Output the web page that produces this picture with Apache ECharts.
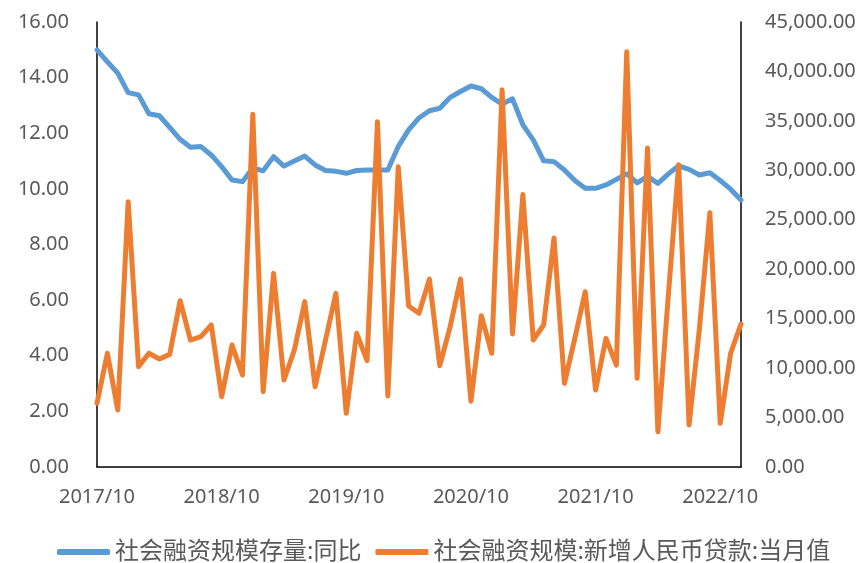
<!DOCTYPE html>
<html>
<head>
<meta charset="utf-8">
<script src="https://cdn.jsdelivr.net/npm/echarts@6/dist/echarts.min.js"></script>
<style>html,body{margin:0;padding:0;background:#fff}#c{width:864px;height:563px}</style>
</head>
<body>
<div id="c"></div>
<script>
const months = [
  '2017/10','2017/11','2017/12',
  '2018/01','2018/02','2018/03','2018/04','2018/05','2018/06','2018/07','2018/08','2018/09','2018/10','2018/11','2018/12',
  '2019/01','2019/02','2019/03','2019/04','2019/05','2019/06','2019/07','2019/08','2019/09','2019/10','2019/11','2019/12',
  '2020/01','2020/02','2020/03','2020/04','2020/05','2020/06','2020/07','2020/08','2020/09','2020/10','2020/11','2020/12',
  '2021/01','2021/02','2021/03','2021/04','2021/05','2021/06','2021/07','2021/08','2021/09','2021/10','2021/11','2021/12',
  '2022/01','2022/02','2022/03','2022/04','2022/05','2022/06','2022/07','2022/08','2022/09','2022/10','2022/11','2022/12'
];
const seriesNames = ['社会融资规模存量:同比', '社会融资规模:新增人民币贷款:当月值'];
const stockYoY = [
  15.00,14.57,14.16,
  13.46,13.38,12.70,12.63,12.21,11.78,11.50,11.52,11.22,10.80,10.32,10.26,
  10.75,10.65,11.16,10.82,11.00,11.18,10.86,10.66,10.63,10.56,10.66,10.68,
  10.68,10.68,11.52,12.12,12.55,12.81,12.90,13.29,13.50,13.70,13.60,13.29,
  13.05,13.24,12.30,11.76,11.01,10.98,10.68,10.30,10.02,10.02,10.14,10.34,
  10.54,10.22,10.45,10.20,10.54,10.83,10.70,10.50,10.58,10.30,9.99,9.60
];
const newLoans = [
  6440,11500,5760,
  26830,10150,11500,10920,11390,16820,12840,13180,14360,7110,12340,9300,
  35660,7620,19580,8800,11830,16720,8120,12840,17560,5430,13520,10750,
  34920,7180,30370,16280,15540,19000,10250,14200,19000,6650,15300,11500,
  38150,13450,27550,12840,14360,23150,8460,13010,17730,7790,13010,10310,
  42000,8970,32250,3570,17300,30570,4250,14020,25720,4420,11500,14460
];
const leftAxisRange = [0, 16, 2];
const rightAxisRange = [0, 45000, 5000];

const FONT = '"Noto Sans", "Noto Sans CJK SC", sans-serif';
const labelColor = '#595959';

function fmtRight(v) {
  return v.toLocaleString('en-US', {minimumFractionDigits: 2, maximumFractionDigits: 2});
}

const chart = echarts.init(document.getElementById('c'), null, {renderer: 'canvas'});
chart.setOption({
  backgroundColor: '#fff',
  animation: false,
  textStyle: {fontFamily: FONT},
  grid: {left: 97, right: 123, top: 22, bottom: 96, containLabel: false},
  legend: {
    data: seriesNames,
    top: 535,
    left: 52,
    icon: 'roundRect',
    itemWidth: 53,
    itemHeight: 6,
    itemGap: 14,
    textStyle: {fontFamily: FONT, fontSize: 24, color: labelColor}
  },
  xAxis: {
    type: 'category',
    data: months,
    boundaryGap: false,
    axisLine: {show: true, lineStyle: {color: '#000', width: 1.5}},
    axisTick: {show: false},
    splitLine: {show: false},
    axisLabel: {interval: 11, margin: 20, fontSize: 20, color: labelColor, fontFamily: FONT}
  },
  yAxis: [
    {
      type: 'value',
      min: leftAxisRange[0], max: leftAxisRange[1], interval: leftAxisRange[2],
      axisLine: {show: true, lineStyle: {color: '#000', width: 1.5}},
      axisTick: {show: false},
      splitLine: {show: false},
      axisLabel: {margin: 28, fontSize: 20, color: labelColor, fontFamily: FONT,
        formatter: v => v.toFixed(2)}
    },
    {
      type: 'value',
      min: rightAxisRange[0], max: rightAxisRange[1], interval: rightAxisRange[2],
      position: 'right',
      axisLine: {show: true, lineStyle: {color: '#000', width: 1.5}},
      axisTick: {show: false},
      splitLine: {show: false},
      axisLabel: {margin: 24, fontSize: 20, color: labelColor, fontFamily: FONT,
        formatter: v => fmtRight(v)}
    }
  ],
  series: [
    {
      name: seriesNames[0], type: 'line', yAxisIndex: 0, data: stockYoY,
      symbol: 'none', smooth: false,
      lineStyle: {color: '#5B9BD5', width: 5, join: 'round', cap: 'round'},
      itemStyle: {color: '#5B9BD5'}
    },
    {
      name: seriesNames[1], type: 'line', yAxisIndex: 1, data: newLoans,
      symbol: 'none', smooth: false,
      lineStyle: {color: '#ED7D31', width: 5, join: 'round', cap: 'round'},
      itemStyle: {color: '#ED7D31'}
    }
  ]
});
</script>
</body>
</html>
